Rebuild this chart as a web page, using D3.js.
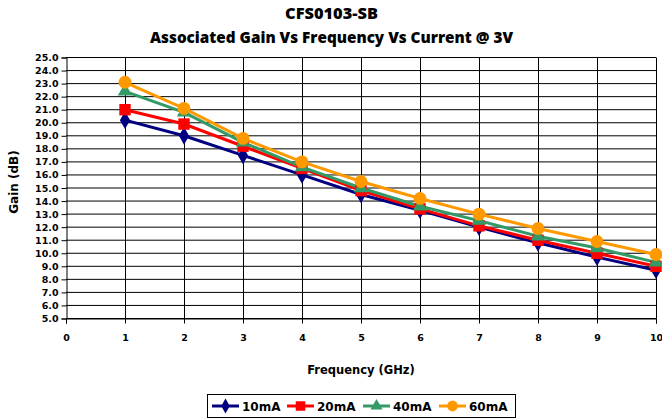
<!DOCTYPE html>
<html>
<head>
<meta charset="utf-8">
<script src="https://cdnjs.cloudflare.com/ajax/libs/d3/7.8.5/d3.min.js"></script>
<style>
  body { margin: 0; background: #fff; }
  text { font-family: "DejaVu Sans", sans-serif; font-weight: 700; fill: #000; }
  .title { font-family: "Open Sans", sans-serif; font-weight: 800; }
</style>
</head>
<body>
<div id="chart"></div>
<script>
var freq = [1, 2, 3, 4, 5, 6, 7, 8, 9, 10];
var gain10 = [20.2, 19.0, 17.5, 16.0, 14.5, 13.3, 12.0, 10.8, 9.7, 8.7];
var gain20 = [21.0, 19.9, 18.2, 16.5, 14.8, 13.4, 12.1, 11.0, 10.0, 9.0];
var gain40 = [22.4, 20.8, 18.5, 16.6, 15.0, 13.6, 12.5, 11.3, 10.4, 9.3];
var gain60 = [23.1, 21.1, 18.8, 17.0, 15.5, 14.2, 13.0, 11.9, 10.9, 9.9];
var seriesNames = ["10mA", "20mA", "40mA", "60mA"];
var xTicks = [0, 1, 2, 3, 4, 5, 6, 7, 8, 9, 10];
var yTicks = d3.range(5, 25.5, 1);

var width = 662, height = 419;

var svg = d3.select("#chart")
    .append("svg")
    .attr("width", width)
    .attr("height", height);

var x = d3.scaleLinear().domain([0, 10]).range([66, 656]);
var y = d3.scaleLinear().domain([5, 25]).range([318.5, 57.5]);

//titles
svg.append("text").attr("class", "title").attr("x", 331.5).attr("y", 18.5).attr("text-anchor", "middle")
    .style("font-size", "15px").attr("textLength", 93).attr("lengthAdjust", "spacingAndGlyphs")
    .text("CFS0103-SB");
svg.append("text").attr("class", "title").attr("x", 331.5).attr("y", 42.5).attr("text-anchor", "middle")
    .style("font-size", "15px").attr("textLength", 363).attr("lengthAdjust", "spacingAndGlyphs")
    .text("Associated Gain Vs Frequency Vs Current @ 3V");

//grid lines
svg.append("g")
    .selectAll("line")
    .data(yTicks)
    .enter()
    .append("line")
    .attr("x1", x(0)).attr("x2", x(10))
    .attr("y1", d => y(d)).attr("y2", d => y(d))
    .attr("stroke", "#000").attr("stroke-width", 1);

svg.append("g")
    .selectAll("line")
    .data(xTicks.slice(1))
    .enter()
    .append("line")
    .attr("x1", d => x(d) + 0.5).attr("x2", d => x(d) + 0.5)
    .attr("y1", y(25)).attr("y2", y(5))
    .attr("stroke", "#000").attr("stroke-width", 1);

//axes
var yAxis = svg.append("g")
    .attr("transform", "translate(" + (x(0) + 0.5) + ",0)")
    .call(d3.axisLeft(y).tickValues(yTicks).tickSize(5).tickPadding(3).tickFormat(d3.format(".1f")));
yAxis.select(".domain").attr("stroke", "#000");
yAxis.selectAll("text").style("font-size", "9.5px").attr("font-family", null);

var xAxis = svg.append("g")
    .attr("transform", "translate(0," + y(5) + ")")
    .call(d3.axisBottom(x).tickValues(xTicks).tickSize(5).tickPadding(11).tickFormat(d3.format("d")));
xAxis.select(".domain").attr("stroke", "#000");
xAxis.selectAll("text").style("font-size", "9.5px").attr("font-family", null);

svg.append("text")
    .attr("transform", "translate(18,182) rotate(-90)")
    .attr("text-anchor", "middle")
    .style("font-size", "12px")
    .text("Gain (dB)");

svg.append("text")
    .attr("x", 361).attr("y", 374)
    .attr("text-anchor", "middle")
    .style("font-size", "11.5px")
    .text("Frequency (GHz)");

//series
var series = [
    { name: seriesNames[0], values: gain10, color: "#000080", shape: d3.symbolDiamond, size: 90 },
    { name: seriesNames[1], values: gain20, color: "#FF0000", shape: d3.symbolSquare, size: 130 },
    { name: seriesNames[2], values: gain40, color: "#339966", shape: d3.symbolTriangle, size: 90 },
    { name: seriesNames[3], values: gain60, color: "#FF9900", shape: d3.symbolCircle, size: 130 }
];

var line = d3.line()
    .x((d, i) => x(freq[i]))
    .y(d => y(d));

series.forEach(function (s) {
    svg.append("path")
        .datum(s.values)
        .attr("d", line)
        .attr("fill", "none")
        .attr("stroke", s.color)
        .attr("stroke-width", 3);
});

series.forEach(function (s) {
    svg.append("g")
        .selectAll("path")
        .data(s.values)
        .enter()
        .append("path")
        .attr("d", d3.symbol().type(s.shape).size(s.size))
        .attr("transform", (d, i) => "translate(" + x(freq[i]) + "," + y(d) + ")")
        .attr("fill", s.color);
});

//legend
var legend = svg.append("g").attr("transform", "translate(207,394)");
legend.append("rect")
    .attr("x", 0.5).attr("y", 0.5)
    .attr("width", 308).attr("height", 23)
    .attr("fill", "#fff").attr("stroke", "#000");

var legendX = [5, 80, 156, 232];
series.forEach(function (s, i) {
    var g = legend.append("g").attr("transform", "translate(" + legendX[i] + ",12)");
    g.append("line").attr("x1", 0).attr("x2", 27).attr("y1", 0).attr("y2", 0)
        .attr("stroke", s.color).attr("stroke-width", 3);
    g.append("path")
        .attr("d", d3.symbol().type(s.shape).size(s.size * 0.7))
        .attr("transform", "translate(13.5,0)")
        .attr("fill", s.color);
    g.append("text").attr("x", 30).attr("y", 5)
        .style("font-size", "12px")
        .text(s.name);
});
</script>
</body>
</html>
